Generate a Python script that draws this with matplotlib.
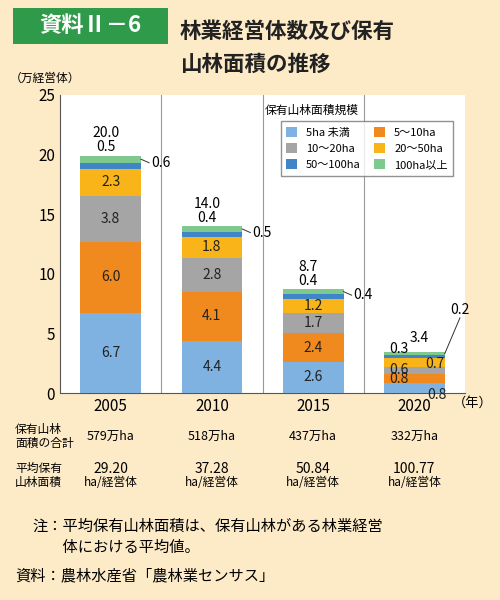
import matplotlib
matplotlib.use("Agg")
import matplotlib.pyplot as plt
from matplotlib.patches import Rectangle
import numpy as np

plt.rcParams['font.family'] = ['Noto Sans CJK JP', 'DejaVu Sans']

years = ["2005", "2010", "2015", "2020"]
series_names = ["5ha 未満", "5～10ha", "10～20ha", "20～50ha", "50～100ha", "100ha以上"]
s_lt5 = [6.7, 4.4, 2.6, 0.8]
s_5_10 = [6.0, 4.1, 2.4, 0.8]
s_10_20 = [3.8, 2.8, 1.7, 0.6]
s_20_50 = [2.3, 1.8, 1.2, 0.7]
s_50_100 = [0.5, 0.4, 0.4, 0.3]
s_100 = [0.6, 0.5, 0.4, 0.2]
totals = [20.0, 14.0, 8.7, 3.4]
area_totals = ["579万ha", "518万ha", "437万ha", "332万ha"]
avg_area = ["29.20", "37.28", "50.84", "100.77"]

colors = ["#7fb2e0", "#f08a1e", "#a5a5a5", "#f8b418", "#3f86c8", "#80c98e"]
series = [s_lt5, s_5_10, s_10_20, s_20_50, s_50_100, s_100]

fig = plt.figure(figsize=(5, 6), dpi=100)
fig.patch.set_facecolor("#fdebc8")
ax = fig.add_axes([0.12, 0.345, 0.81, 0.497])
ax.set_facecolor("white")
x = np.arange(len(years))
bottom = np.zeros(len(years))
bars = []
handles = []
for vals, c, n in zip(series, colors, series_names):
    b = ax.bar(x, vals, 0.6, bottom=bottom, color=c, label=n, zorder=3)
    handles.append(b)
    bars.append((vals, bottom.copy()))
    bottom += np.array(vals)
ax.set_xlim(-0.5, 3.5)
ax.set_ylim(0, 25)
ax.set_yticks([0, 5, 10, 15, 20, 25])
ax.set_xticks(x)
ax.set_xticklabels(years, fontsize=11)
ax.tick_params(axis='y', labelsize=11, length=0)
ax.tick_params(axis='x', length=0)
for xv in [0.5, 1.5, 2.5]:
    ax.axvline(xv, color="#999999", lw=0.8, zorder=1)
for s in ["top", "right"]:
    ax.spines[s].set_visible(False)
ax.spines["left"].set_color("#555555")
ax.spines["bottom"].set_color("#555555")

fs = 10
for i in range(3):
    for k in range(4):
        vals, bot = bars[k]
        ax.text(x[i], bot[i] + vals[i] / 2, f"{vals[i]:.1f}", ha="center", va="center", fontsize=fs, color="#222222", zorder=4)
    vals, bot = bars[4]
    top = bot[i] + vals[i] + s_100[i]
    ax.text(x[i] - 0.05, top + 0.1, f"{vals[i]:.1f}", ha="center", va="bottom", fontsize=fs, zorder=4)
    ax.text(x[i] - 0.05, top + 1.3, f"{totals[i]:.1f}", ha="center", va="bottom", fontsize=fs, zorder=4)
    vals, bot = bars[5]
    ym = bot[i] + vals[i] / 2
    ax.plot([x[i] + 0.3, x[i] + 0.38], [ym, ym - 0.3], color="#333333", lw=0.7, zorder=4)
    ax.text(x[i] + 0.4, ym - 0.3, f"{vals[i]:.1f}", ha="left", va="center", fontsize=fs, zorder=4)

# 2020 (small segments) labels staggered
i = 3
offs = [(0.22, -0.55), (-0.15, 0), (-0.15, 0), (0.2, -0.1)]
for k in range(4):
    vals, bot = bars[k]
    dx, dy = offs[k]
    ax.text(x[i] + dx, bot[i] + vals[i] / 2 + dy, f"{vals[i]:.1f}", ha="center", va="center", fontsize=fs, color="#222222", zorder=4)
top = totals[i]
ax.text(x[i] - 0.15, top - 0.3, f"{s_50_100[i]:.1f}", ha="center", va="bottom", fontsize=fs, zorder=4)
ax.text(x[i] + 0.05, top + 0.6, f"{totals[i]:.1f}", ha="center", va="bottom", fontsize=fs, zorder=4)
vals, bot = bars[5]
ym = bot[i] + vals[i] / 2
ax.plot([x[i] + 0.3, x[i] + 0.45], [ym, ym + 3.0], color="#333333", lw=0.7, zorder=4)
ax.text(x[i] + 0.45, ym + 3.1, f"{vals[i]:.1f}", ha="center", va="bottom", fontsize=fs, zorder=4)

order = [0, 2, 4, 1, 3, 5]
leg = ax.legend([handles[j] for j in order], [series_names[j] for j in order],
                loc="upper right", bbox_to_anchor=(0.985, 0.93), ncol=2, fontsize=8,
                frameon=True, handlelength=1.0, handleheight=1.0, columnspacing=1.2,
                borderpad=0.5, fancybox=False, edgecolor="#777777")
leg.set_zorder(5)
fig.text(0.53, 0.817, "保有山林面積規模", fontsize=8.5, ha="left", va="center")
fig.text(0.02, 0.87, "（万経営体）", fontsize=8.5, ha="left", va="center")
fig.text(0.905, 0.328, "（年）", fontsize=9.5, ha="left", va="center")

# title
fig.patches.append(Rectangle((0.025, 0.927), 0.31, 0.06, transform=fig.transFigure,
                             facecolor="#2e9a4a", edgecolor="none"))
fig.text(0.18, 0.957, "資料Ⅱ－6", color="white", fontsize=16, fontweight="bold", ha="center", va="center")
fig.text(0.36, 0.947, "林業経営体数及び保有", fontsize=15.5, fontweight="bold", ha="left", va="center", color="#222222")
fig.text(0.36, 0.893, "山林面積の推移", fontsize=15.5, fontweight="bold", ha="left", va="center", color="#222222")

# table below
fig.text(0.03, 0.272, "保有山林\n面積の合計", fontsize=8.5, ha="left", va="center", linespacing=1.1)
fig.text(0.03, 0.208, "平均保有\n山林面積", fontsize=8.5, ha="left", va="center", linespacing=1.1)
for i in range(4):
    xf = 0.12 + 0.81 * (x[i] + 0.5) / 4
    fig.text(xf, 0.272, area_totals[i], fontsize=9, ha="center", va="center")
    fig.text(xf, 0.219, avg_area[i], fontsize=10, ha="center", va="center")
    fig.text(xf, 0.196, "ha/経営体", fontsize=8.5, ha="center", va="center")

fig.text(0.065, 0.105, "注：平均保有山林面積は、保有山林がある林業経営\n　　体における平均値。", fontsize=11, ha="left", va="center", linespacing=1.3)
fig.text(0.03, 0.04, "資料：農林水産省「農林業センサス」", fontsize=11, ha="left", va="center")

fig.savefig("out.png", dpi=100, facecolor=fig.get_facecolor())
